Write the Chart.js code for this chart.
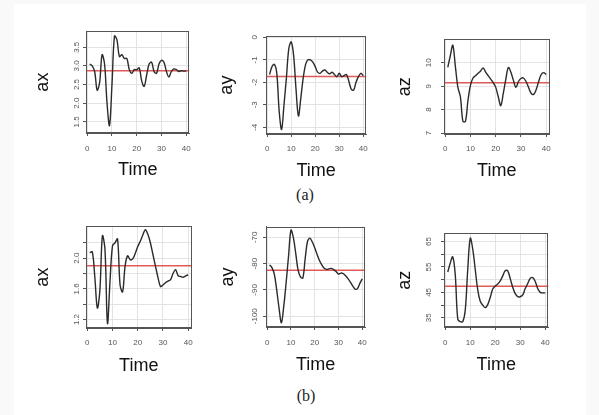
<!DOCTYPE html>
<html>
<head>
<meta charset="utf-8">
<script src="https://cdn.jsdelivr.net/npm/chart.js@4.4.0/dist/chart.umd.min.js"></script>
<style>
  html, body { margin: 0; padding: 0; }
  body { width: 599px; height: 415px; background: #f9f9f9; position: relative; overflow: hidden; }
  #sheet { position: absolute; left: 14px; top: 4px; width: 572px; height: 411px; background: #fff; }
  canvas { position: absolute; }
  .caption { position: absolute; transform: translate(-50%, -50%); font-family: 'Liberation Serif', 'DejaVu Serif', serif; font-size: 16px; color: #222; }
</style>
</head>
<body>
<div id="sheet"></div>
<div class="caption" style="left:305px; top:195px;">(a)</div>
<div class="caption" style="left:306px; top:396px;">(b)</div>
<script>
// time index (samples)
const time = [1,2,3,4,5,6,7,8,9,10,11,12,13,14,15,16,17,18,19,20,21,22,23,24,25,26,27,28,29,30,31,32,33,34,35,36,37,38,39,40];

// (a) series
const axA = [3.05,3.0,2.85,2.35,2.55,3.3,3.05,2.0,1.4,2.5,3.8,3.7,3.25,3.3,3.2,3.2,2.9,2.8,2.9,2.9,
             2.95,2.6,2.45,2.75,3.05,3.1,2.85,2.8,3.05,3.15,3.1,2.85,2.7,2.85,2.92,2.9,2.85,2.87,2.86,2.86];
const ayA = [-1.65,-1.3,-1.2,-1.6,-3.3,-4.1,-3.0,-1.8,-0.5,-0.2,-0.8,-2.3,-3.5,-2.7,-1.8,-1.2,-1.0,-1.0,-1.1,-1.3,
             -1.55,-1.6,-1.5,-1.45,-1.55,-1.62,-1.55,-1.65,-1.75,-1.6,-1.75,-1.7,-1.65,-1.95,-2.3,-2.35,-2.0,-1.75,-1.6,-1.7];
const azA = [9.8,10.3,10.75,9.85,8.95,8.55,7.5,7.5,8.4,9.05,9.35,9.45,9.55,9.65,9.78,9.6,9.45,9.3,9.15,8.95,
             8.55,8.17,8.7,9.3,9.8,9.6,9.25,8.95,9.2,9.33,9.35,9.2,8.95,8.7,8.65,8.85,9.2,9.5,9.58,9.5];

// (b) series
const axB = [2.07,2.08,1.75,1.35,1.58,2.29,2.12,1.15,1.69,2.16,2.2,2.25,1.65,1.56,1.9,2.03,1.98,1.99,2.06,2.15,
             2.22,2.3,2.37,2.31,2.2,2.05,1.9,1.75,1.63,1.65,1.68,1.7,1.72,1.8,1.85,1.77,1.76,1.75,1.77,1.78];
const ayB = [-80.5,-81.5,-84,-90,-97,-102.5,-96,-87,-77,-67.3,-70,-76,-82.5,-85,-85.5,-78,-71.5,-70.3,-71.8,-74,
             -76.5,-78.8,-80.5,-81.8,-82.2,-82,-81.8,-82.3,-83,-84,-83.6,-83.8,-84.6,-85.7,-87,-88.5,-89.7,-89.5,-87.5,-85.8];
const azB = [53,56.5,59,52,34.5,33.5,33.5,38,54,66.3,62,54,46,41.5,40,39,40.2,43,46.3,47.5,
             48.3,49.5,51.5,53.5,53.5,50.4,47,44.5,43.3,43.3,44,46.5,48.5,50.5,50.8,49.3,46.5,45,44.8,44.8];

// red reference levels, one per panel
const refLevels = [2.87, -1.74, 9.15, 1.9, -82.5, 47.4];

// axis ticks and ranges
const xTicks = [0, 10, 20, 30, 40];
const xRange = [-0.5, 41.3];

const yTicksAxA = [1.5, 2.0, 2.5, 3.0, 3.5];
const yLabelsAxA = ['1.5', '2.0', '2.5', '3.0', '3.5'];
const yRangeAxA = [1.2, 3.93];

const yTicksAyA = [-4, -3, -2, -1, 0];
const yLabelsAyA = ['-4', '-3', '-2', '-1', '0'];
const yRangeAyA = [-4.3, 0.05];

const yTicksAzA = [7, 8, 9, 10];
const yLabelsAzA = ['7', '8', '9', '10'];
const yRangeAzA = [6.96, 11.0];

const yTicksAxB = [1.2, 1.4, 1.6, 1.8, 2.0, 2.2];
const yLabelsAxB = ['1.2', '', '1.6', '', '2.0', ''];
const yRangeAxB = [1.09, 2.415];

const yTicksAyB = [-100, -95, -90, -85, -80, -75, -70];
const yLabelsAyB = ['-100', '', '-90', '', '-80', '', '-70'];
const yRangeAyB = [-104.1, -66];

const yTicksAzB = [35, 40, 45, 50, 55, 60, 65];
const yLabelsAzB = ['35', '', '45', '', '55', '', '65'];
const yRangeAzB = [31.4, 68.2];

const yNames = ['ax', 'ay', 'az', 'ax', 'ay', 'az'];

// layout of each plot box: [left, top, width, height] and text gaps
const panels = [
  { series: axA, ticks: yTicksAxA, labels: yLabelsAxA, range: yRangeAxA, box: [86, 30, 109, 103], titleGap: 43, labelGap: 9, timeGap: 37, xLabelGap: 16 },
  { series: ayA, ticks: yTicksAyA, labels: yLabelsAyA, range: yRangeAyA, box: [266, 31, 105, 103], titleGap: 39, labelGap: 11, timeGap: 37, xLabelGap: 15 },
  { series: azA, ticks: yTicksAzA, labels: yLabelsAzA, range: yRangeAzA, box: [444, 31, 110, 103], titleGap: 39, labelGap: 15, timeGap: 37, xLabelGap: 15 },
  { series: axB, ticks: yTicksAxB, labels: yLabelsAxB, range: yRangeAxB, box: [86, 225, 110, 103], titleGap: 43, labelGap: 9, timeGap: 38, xLabelGap: 15 },
  { series: ayB, ticks: yTicksAyB, labels: yLabelsAyB, range: yRangeAyB, box: [266, 226, 105, 101], titleGap: 38, labelGap: 11, timeGap: 38, xLabelGap: 16 },
  { series: azB, ticks: yTicksAzB, labels: yLabelsAzB, range: yRangeAzB, box: [444, 225, 110, 102], titleGap: 39, labelGap: 15, timeGap: 38, xLabelGap: 16 }
];

const tickFont = { family: "'Liberation Sans', Arial, sans-serif", size: 8 };
const titleFont = { family: "'Liberation Sans', Arial, sans-serif", size: 18, lineHeight: 1 };
const tickLen = 3;

const measure = document.createElement('canvas').getContext('2d');
function widest(labels) {
  measure.font = tickFont.size + 'px ' + tickFont.family;
  return Math.max(...labels.map(s => measure.measureText(s).width));
}

// R-style box around the plot region
const boxPlugin = {
  id: 'plotBox',
  afterDraw(chart) {
    const { ctx, chartArea: a } = chart;
    ctx.save();
    ctx.strokeStyle = '#555';
    ctx.lineWidth = 1;
    ctx.strokeRect(Math.round(a.left) + 0.5, Math.round(a.top) + 0.5, Math.round(a.width) - 1, Math.round(a.height) - 1);
    ctx.restore();
  }
};

panels.forEach(function(p, i) {
  const [bx, by, bw, bh] = p.box;
  const yAxisW = p.titleGap + titleFont.size / 2;
  const xAxisH = p.timeGap + titleFont.size / 2;
  const padTop = 4, padRight = 4;

  const canvas = document.createElement('canvas');
  canvas.width = yAxisW + bw + padRight;
  canvas.height = padTop + bh + xAxisH;
  canvas.style.left = (bx - yAxisW) + 'px';
  canvas.style.top = (by - padTop) + 'px';
  document.body.appendChild(canvas);

  new Chart(canvas.getContext('2d'), {
    type: 'line',
    data: {
      datasets: [{
        data: time.map((t, k) => ({ x: t, y: p.series[k] })),
        borderColor: '#2b2b2b',
        borderWidth: 1.4,
        pointRadius: 0,
        tension: 0.35
      }, {
        data: [{ x: xRange[0], y: refLevels[i] }, { x: xRange[1], y: refLevels[i] }],
        borderColor: '#e05a5a',
        borderWidth: 1.6,
        pointRadius: 0
      }]
    },
    options: {
      responsive: false,
      animation: false,
      devicePixelRatio: 1,
      layout: { padding: { top: padTop, right: padRight, left: 0, bottom: 0 } },
      plugins: { legend: { display: false }, tooltip: { enabled: false } },
      scales: {
        x: {
          type: 'linear',
          min: xRange[0],
          max: xRange[1],
          afterBuildTicks: s => { s.ticks = xTicks.map(v => ({ value: v })); },
          afterFit: s => { s.height = xAxisH; },
          ticks: {
            font: tickFont,
            color: '#555',
            maxRotation: 0,
            padding: p.xLabelGap - tickLen - tickFont.size * 0.6,
            callback: v => String(v)
          },
          grid: { color: '#e3e3e3', tickColor: '#555', tickLength: tickLen },
          border: { color: '#555', width: 1 },
          title: { display: true, text: 'Time', font: titleFont, color: '#111', padding: 0 }
        },
        y: {
          type: 'linear',
          min: p.range[0],
          max: p.range[1],
          afterBuildTicks: s => { s.ticks = p.ticks.map(v => ({ value: v })); },
          afterFit: s => { s.width = yAxisW; },
          ticks: {
            font: tickFont,
            color: '#555',
            minRotation: 90,
            maxRotation: 90,
            crossAlign: 'center',
            padding: p.labelGap - tickLen - widest(p.labels) / 2,
            callback: v => p.labels[p.ticks.indexOf(v)] ?? ''
          },
          grid: { color: '#e3e3e3', tickColor: '#555', tickLength: tickLen },
          border: { color: '#555', width: 1 },
          title: { display: true, text: yNames[i], font: titleFont, color: '#111', padding: 0 }
        }
      }
    },
    plugins: [boxPlugin]
  });
});
</script>
</body>
</html>
